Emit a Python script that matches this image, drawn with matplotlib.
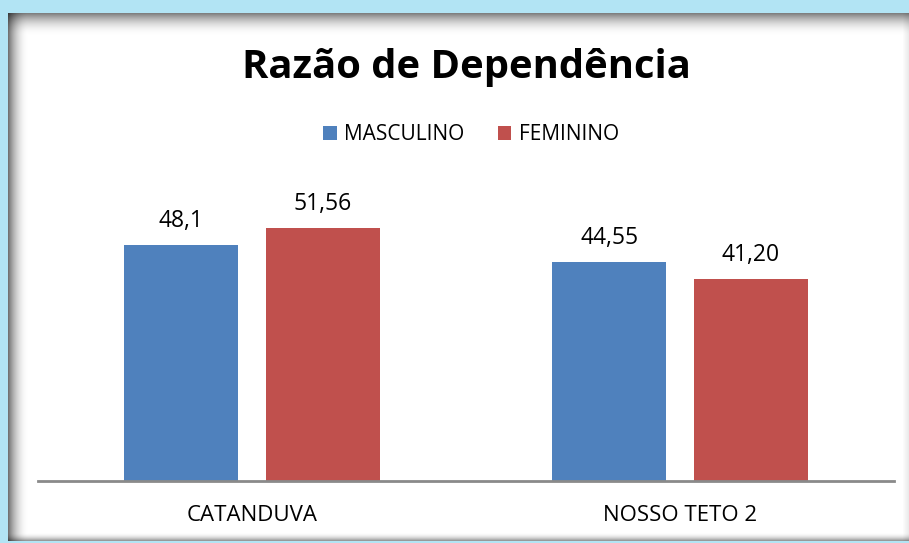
import numpy as np
import matplotlib.pyplot as plt

# data
categories = ["CATANDUVA", "NOSSO TETO 2"]
series_names = ["MASCULINO", "FEMININO"]
masculino = [48.1, 44.55]
feminino = [51.56, 41.20]
value_labels = [["48,1", "44,55"], ["51,56", "41,20"]]

colors = ["#4f81bd", "#c0504d"]
font = "Open Sans"

W, H = 909, 543
fig = plt.figure(figsize=(W / 100, H / 100), dpi=100)

# background: light blue page with a white panel that has an inner shadow
img = np.ones((H, W, 3))
img[:, :] = np.array([178, 228, 244]) / 255
yy, xx = np.mgrid[0:H, 0:W]
x0, y0, y1 = 8, 13, 540
dt = (yy - y0).astype(float)
dl = (xx - x0).astype(float)
db = (y1 - yy).astype(float)
dr = (W - 1 - xx).astype(float)
shade = 1.0
shade = shade * (1 - 0.5 * np.clip(1 - dt / 22, 0, 1) ** 2)
shade = shade * (1 - 0.55 * np.clip(1 - dl / 20, 0, 1) ** 2)
shade = shade * (1 - 0.4 * np.clip(1 - db / 8, 0, 1) ** 2)
shade = shade * (1 - 0.08 * np.clip(1 - dr / 6, 0, 1))
panel = (xx >= x0) & (yy >= y0) & (yy <= y1)
for c in range(3):
    img[..., c] = np.where(panel, shade, img[..., c])

bg = fig.add_axes([0, 0, 1, 1], zorder=-1)
bg.imshow(img, aspect="auto", interpolation="nearest")
bg.axis("off")

# chart
ax = fig.add_axes([38 / W, 1 - 481 / H, (894 - 38) / W, (481 - 186.6) / H])
ax.patch.set_alpha(0)
x = np.arange(len(categories))
width = 0.266
offset = 0.1657
bars_m = ax.bar(x - offset, masculino, width, color=colors[0], label=series_names[0])
bars_f = ax.bar(x + offset, feminino, width, color=colors[1], label=series_names[1])

for bars, labels in zip([bars_m, bars_f], value_labels):
    for b, lab in zip(bars, labels):
        ax.annotate(lab, (b.get_x() + b.get_width() / 2, b.get_height()),
                    xytext=(0, 13), textcoords="offset points",
                    ha="center", va="baseline", fontsize=16.5, family=font)

ax.set_xlim(-0.5, 1.5)
ax.set_ylim(0, 60)
ax.set_yticks([])
ax.set_xticks(x)
ax.set_xticklabels(categories, fontsize=16, family=font)
ax.tick_params(axis="x", length=0, pad=17)
for s in ["top", "right", "left"]:
    ax.spines[s].set_visible(False)
ax.spines["bottom"].set_color("#8a8a8a")
ax.spines["bottom"].set_linewidth(2)

fig.text(466 / W, 1 - 78 / H, "Razão de Dependência", ha="center", va="baseline",
         fontsize=28.8, fontweight="bold", family=font)

fig.legend(handles=[bars_m, bars_f], labels=series_names, loc="center",
           bbox_to_anchor=(471 / W, 1 - 135 / H), ncol=2, frameon=False,
           prop={"family": font, "size": 15}, handlelength=0.65, handleheight=0.65,
           handletextpad=0.35, columnspacing=1.6)

fig.savefig("out.png", dpi=100)
